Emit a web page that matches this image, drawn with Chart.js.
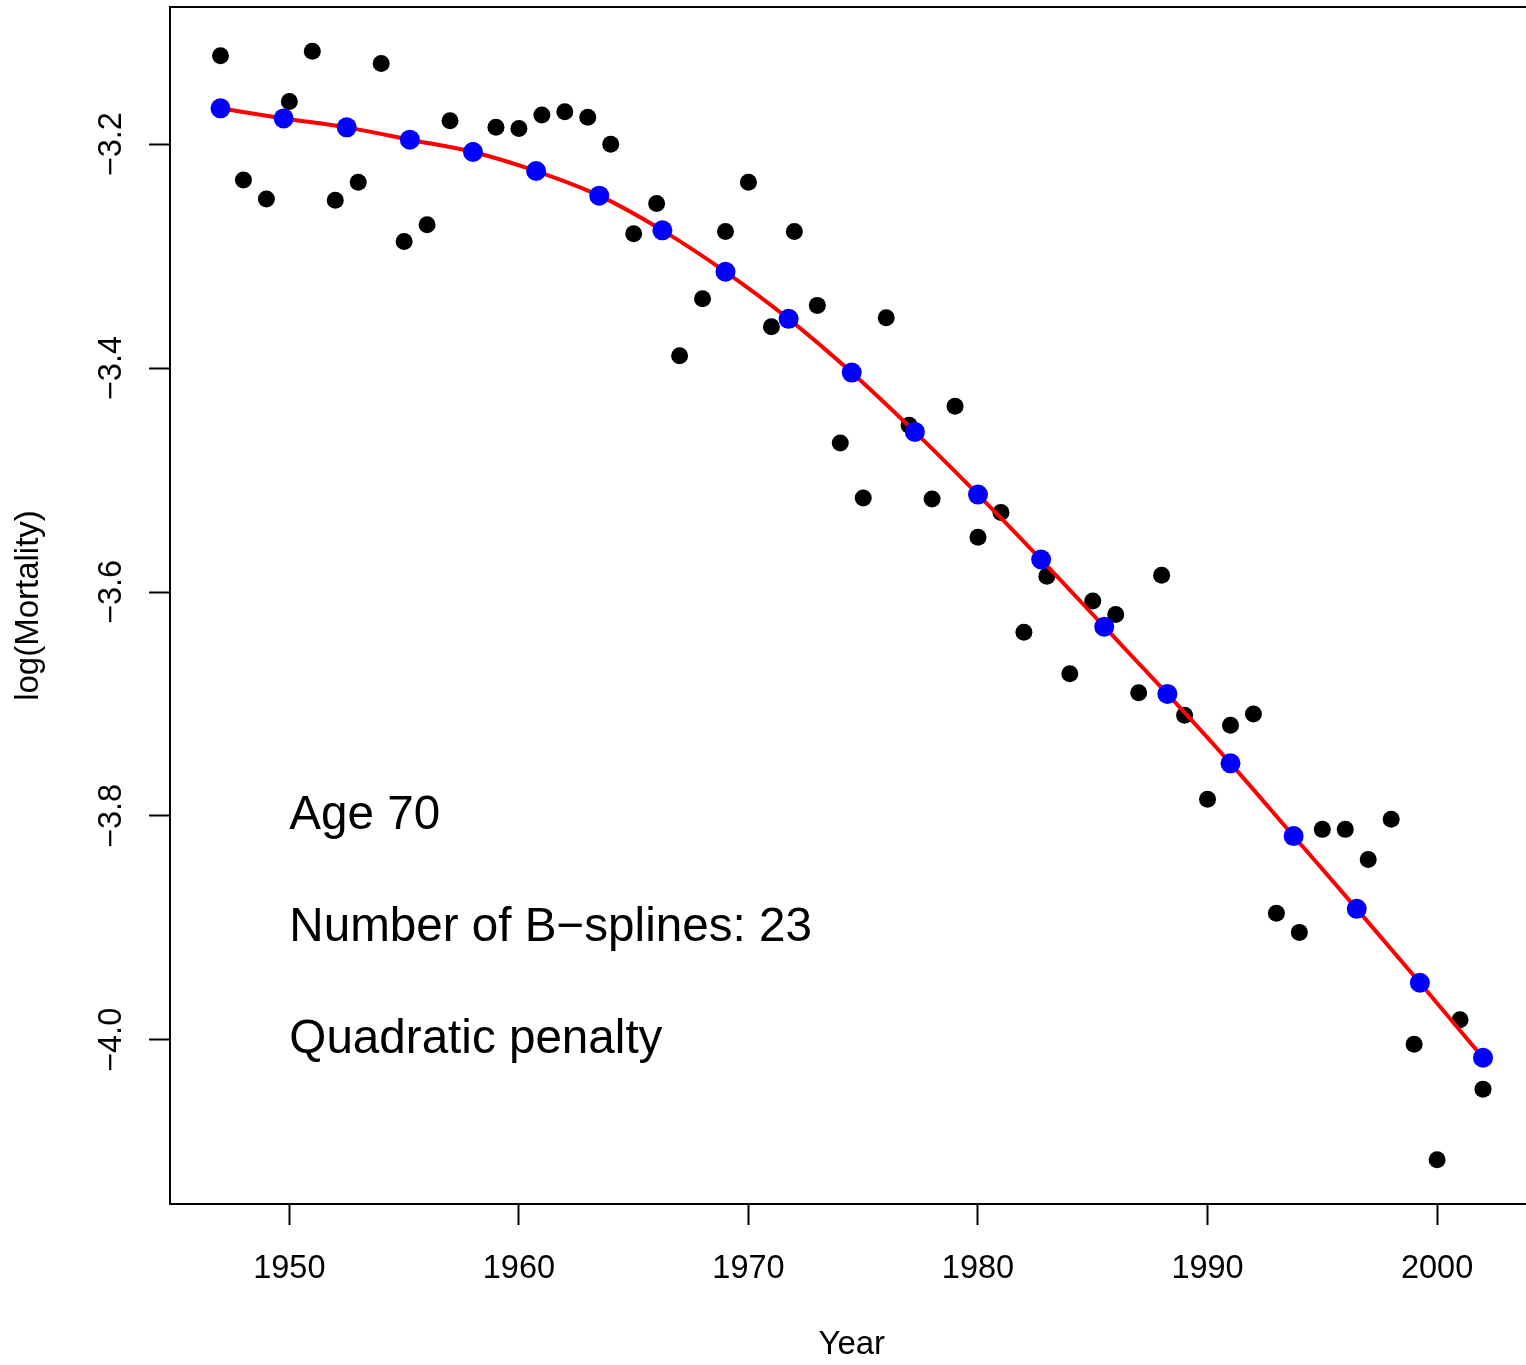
<!DOCTYPE html>
<html>
<head>
<meta charset="utf-8">
<script src="https://cdn.jsdelivr.net/npm/chart.js@4/dist/chart.umd.min.js"></script>
<style>
  html, body { margin: 0; padding: 0; background: #fff; overflow: hidden; }
  #wrap { width: 1540px; height: 1365px; }
</style>
</head>
<body>
<div id="wrap"><canvas id="c" width="1540" height="1365"></canvas></div>
<script>
// ---- data ----
const years = [1947,1948,1949,1950,1951,1952,1953,1954,1955,1956,1957,1958,1959,1960,1961,1962,1963,1964,1965,1966,1967,1968,1969,1970,1971,1972,1973,1974,1975,1976,1977,1978,1979,1980,1981,1982,1983,1984,1985,1986,1987,1988,1989,1990,1991,1992,1993,1994,1995,1996,1997,1998,1999,2000,2001,2002];
const logMortality = [-3.121,-3.232,-3.249,-3.162,-3.117,-3.250,-3.234,-3.128,-3.287,-3.272,-3.179,-3.206,-3.185,-3.186,-3.174,-3.171,-3.176,-3.200,-3.280,-3.253,-3.389,-3.338,-3.278,-3.234,-3.363,-3.278,-3.344,-3.467,-3.516,-3.355,-3.451,-3.517,-3.434,-3.551,-3.529,-3.636,-3.586,-3.673,-3.608,-3.620,-3.690,-3.585,-3.710,-3.785,-3.719,-3.709,-3.887,-3.904,-3.812,-3.812,-3.839,-3.803,-4.004,-4.107,-3.982,-4.044];
const fitYears = [1947,1949.75,1952.5,1955.25,1958,1960.75,1963.5,1966.25,1969,1971.75,1974.5,1977.25,1980,1982.75,1985.5,1988.25,1991,1993.75,1996.5,1999.25,2002];
const fitValues = [-3.168,-3.177,-3.185,-3.196,-3.207,-3.224,-3.246,-3.277,-3.314,-3.356,-3.404,-3.457,-3.513,-3.571,-3.631,-3.691,-3.753,-3.818,-3.883,-3.949,-4.016];
const xTicks = [1950,1960,1970,1980,1990,2000];
const xTickLabels = ['1950','1960','1970','1980','1990','2000'];
const yTicks = [-3.2,-3.4,-3.6,-3.8,-4.0];
const yTickLabels = ['\u22123.2','\u22123.4','\u22123.6','\u22123.8','\u22124.0'];
const annotations = ['Age 70','Number of B\u2212splines: 23','Quadratic penalty'];
const annotationY = [-3.8,-3.9,-4.0];
const annotationX = 1950;

const FONT = "'Liberation Sans', Arial, Helvetica, sans-serif";

const observed = years.map((y,i)=>({x:y, y:logMortality[i]}));
const fitted = fitYears.map((y,i)=>({x:y, y:fitValues[i]}));

const rStyle = {
  id: 'rStyle',
  afterDraw(chart) {
    const ctx = chart.ctx;
    const a = chart.chartArea;
    const xs = chart.scales.x, ys = chart.scales.y;
    ctx.save();
    // box
    ctx.strokeStyle = '#000';
    ctx.lineWidth = 2;
    ctx.strokeRect(a.left, a.top, a.right - a.left, a.bottom - a.top);
    ctx.fillStyle = '#000';
    // x tick labels
    ctx.font = '32.5px ' + FONT;
    ctx.textAlign = 'center';
    ctx.textBaseline = 'alphabetic';
    xTicks.forEach((v,i)=>{
      ctx.fillText(xTickLabels[i], xs.getPixelForValue(v), a.bottom + 74);
    });
    // y tick labels (rotated)
    yTicks.forEach((v,i)=>{
      ctx.save();
      ctx.translate(a.left - 49, ys.getPixelForValue(v));
      ctx.rotate(-Math.PI/2);
      ctx.textAlign = 'center';
      ctx.textBaseline = 'alphabetic';
      ctx.fillText(yTickLabels[i], 0, 0);
      ctx.restore();
    });
    // annotations
    ctx.font = '47.6px ' + FONT;
    ctx.textAlign = 'left';
    ctx.textBaseline = 'middle';
    annotations.forEach((t,i)=>{
      ctx.fillText(t, xs.getPixelForValue(annotationX), ys.getPixelForValue(annotationY[i]));
    });
    ctx.restore();
  }
};

new Chart(document.getElementById('c'), {
  type: 'scatter',
  data: {
    datasets: [
      {
        label: 'fit points', data: fitted, order: 1,
        pointRadius: 10, pointBackgroundColor: '#0000FF', pointBorderWidth: 0,
        showLine: false
      },
      {
        label: 'fit line', data: fitted, order: 2,
        pointRadius: 0, showLine: true, borderColor: '#FF0000', borderWidth: 4,
        cubicInterpolationMode: 'monotone', fill: false
      },
      {
        label: 'observed', data: observed, order: 3,
        pointRadius: 8.5, pointBackgroundColor: '#000000', pointBorderWidth: 0,
        showLine: false
      }
    ]
  },
  options: {
    responsive: false,
    animation: false,
    events: [],
    devicePixelRatio: 1,
    layout: { autoPadding: false, padding: { left: 0, top: 7, right: 6.5, bottom: 0 } },
    plugins: { legend: { display: false }, tooltip: { enabled: false } },
    scales: {
      x: {
        type: 'linear', position: 'bottom', min: 1944.8, max: 2004.2,
        afterBuildTicks: s => { s.ticks = xTicks.map(v=>({value:v})); },
        afterFit: s => { s.height = 161; },
        grid: { drawOnChartArea: false, drawTicks: true, tickLength: 21, tickWidth: 2, tickColor: '#000', color: '#000' },
        border: { display: false },
        ticks: { display: false },
        title: { display: true, text: 'Year', color: '#000', font: { family: FONT, size: 33 }, padding: 0 }
      },
      y: {
        type: 'linear', position: 'left', min: -4.1466, max: -3.0775,
        afterBuildTicks: s => { s.ticks = yTicks.map(v=>({value:v})); },
        afterFit: s => { s.width = 170; },
        grid: { drawOnChartArea: false, drawTicks: true, tickLength: 21, tickWidth: 2, tickColor: '#000', color: '#000' },
        border: { display: false },
        ticks: { display: false },
        title: { display: true, text: 'log(Mortality)', color: '#000', font: { family: FONT, size: 33 }, padding: { top: 9, bottom: 0 } }
      }
    }
  },
  plugins: [rStyle]
});
</script>
</body>
</html>
